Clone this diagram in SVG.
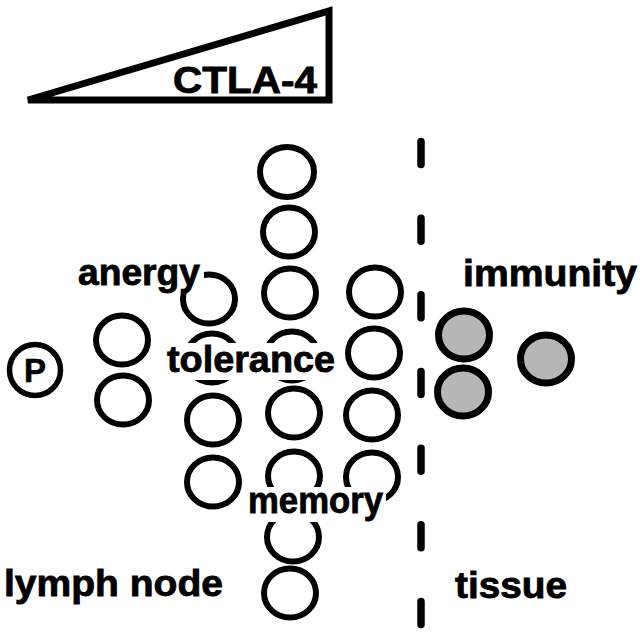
<svg xmlns="http://www.w3.org/2000/svg" width="640" height="634" viewBox="0 0 640 634">
<defs>
<style>
.c{fill:none;stroke:#000;stroke-width:6}
.g{fill:#b6b6b6;stroke:#000;stroke-width:7}
.t{font-family:"Liberation Sans",Arial,sans-serif;font-weight:bold;font-size:36px;fill:#000;stroke:#000;stroke-width:0.8}
.bg{fill:#fff}
</style>
</defs>
<rect width="640" height="634" fill="#fff"/>
<g id="ctla4">
<polygon points="28,100 329,11 329,100" fill="#fff" stroke="#000" stroke-width="7" stroke-linejoin="miter"/>
<text class="t" x="173" y="93" textLength="144" lengthAdjust="spacingAndGlyphs">CTLA-4</text>
</g>
<g id="divider">
<line x1="421" y1="141.5" x2="421" y2="628" stroke="#000" stroke-width="7.5" stroke-linecap="round" stroke-dasharray="23 53.67"/>
</g>
<g id="p-cell">
<circle cx="35" cy="370" r="25.5" fill="none" stroke="#000" stroke-width="5.5"/>
<text x="35" y="382" text-anchor="middle" style="font-family:'Liberation Sans',Arial,sans-serif;font-weight:bold;font-size:33px;stroke:#000;stroke-width:0.6">P</text>
</g>
<g id="col1">
<ellipse class="c" cx="122" cy="340" rx="26" ry="24.5"/>
<ellipse class="c" cx="123" cy="400" rx="26" ry="24.5"/>
</g>
<g id="col2">
<ellipse class="c" cx="209" cy="299" rx="26" ry="24.5"/>
<ellipse class="c" cx="212" cy="358" rx="26" ry="24.5"/>
<ellipse class="c" cx="213" cy="420" rx="26" ry="24.5"/>
<ellipse class="c" cx="213" cy="482" rx="26" ry="24.5"/>
</g>
<g id="col3">
<ellipse class="c" cx="287" cy="172" rx="27" ry="25"/>
<ellipse class="c" cx="289" cy="232" rx="26" ry="24.5"/>
<ellipse class="c" cx="290" cy="293" rx="26" ry="24.5"/>
<ellipse class="c" cx="292" cy="356" rx="26" ry="24.5"/>
<ellipse class="c" cx="294" cy="413" rx="26" ry="24.5"/>
<ellipse class="c" cx="294" cy="476" rx="26" ry="24.5"/>
<ellipse class="c" cx="293" cy="537" rx="26" ry="24.5"/>
<ellipse class="c" cx="290" cy="593" rx="26" ry="24.5"/>
</g>
<g id="col4">
<ellipse class="c" cx="375" cy="292" rx="26" ry="24.5"/>
<ellipse class="c" cx="374" cy="353" rx="26" ry="24.5"/>
<ellipse class="c" cx="372" cy="415" rx="26" ry="24.5"/>
<ellipse class="c" cx="372" cy="477" rx="26" ry="24.5"/>
</g>
<g id="effector">
<ellipse class="g" cx="464" cy="335" rx="25.5" ry="24"/>
<ellipse class="g" cx="463" cy="392" rx="25.5" ry="24"/>
<ellipse class="g" cx="546" cy="359" rx="25.5" ry="24"/>
</g>
<g id="label-anergy">
<rect class="bg" x="74" y="256" width="130" height="35"/>
<text class="t" x="78" y="285" textLength="122" lengthAdjust="spacingAndGlyphs">anergy</text>
</g>
<g id="label-tolerance">
<rect class="bg" x="163" y="343" width="175" height="37"/>
<text class="t" x="167" y="372" textLength="168" lengthAdjust="spacingAndGlyphs">tolerance</text>
</g>
<g id="label-memory">
<rect class="bg" x="245" y="487" width="141" height="35"/>
<text class="t" x="248" y="513" textLength="135" lengthAdjust="spacingAndGlyphs">memory</text>
</g>
<g id="label-immunity">
<text class="t" x="463" y="286" textLength="174" lengthAdjust="spacingAndGlyphs">immunity</text>
</g>
<g id="label-lymph">
<text class="t" x="4" y="596" textLength="219" lengthAdjust="spacingAndGlyphs">lymph node</text>
</g>
<g id="label-tissue">
<text class="t" x="455" y="598" textLength="112" lengthAdjust="spacingAndGlyphs">tissue</text>
</g>
</svg>
